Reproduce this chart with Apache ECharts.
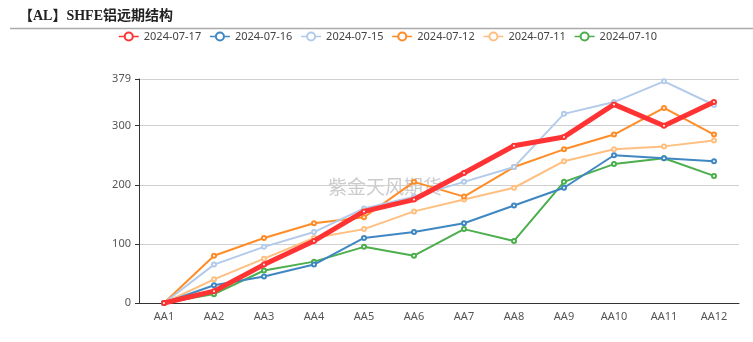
<!DOCTYPE html>
<html>
<head>
<meta charset="utf-8">
<script src="https://cdn.jsdelivr.net/npm/echarts@6/dist/echarts.min.js"></script>
<style>
  html, body { margin: 0; padding: 0; background: #fff; }
  #chart { width: 753px; height: 342px; }
</style>
</head>
<body>
<div id="chart"></div>
<script>
// Contract months along the curve
const contracts = ['AA1', 'AA2', 'AA3', 'AA4', 'AA5', 'AA6', 'AA7', 'AA8', 'AA9', 'AA10', 'AA11', 'AA12'];

// Spread vs. front month for each trading day
const dates = ['2024-07-17', '2024-07-16', '2024-07-15', '2024-07-12', '2024-07-11', '2024-07-10'];
const d0717 = [0, 20, 65, 105, 155, 175, 220, 266, 281, 336, 300, 340];
const d0716 = [0, 30, 45, 65, 110, 120, 135, 165, 195, 250, 245, 240];
const d0715 = [0, 65, 95, 120, 160, 180, 205, 230, 320, 340, 375, 335];
const d0712 = [0, 80, 110, 135, 145, 205, 180, 230, 260, 285, 330, 285];
const d0711 = [0, 40, 75, 110, 125, 155, 175, 195, 240, 260, 265, 275];
const d0710 = [0, 15, 55, 70, 95, 80, 125, 105, 205, 235, 245, 215];

const yMax = 379;

const seriesData = [d0717, d0716, d0715, d0712, d0711, d0710];
const colors = ['#ff3333', '#3f87c2', '#b3cbea', '#ff8c26', '#ffbf80', '#4cae4c'];
const widths = [5, 2, 2, 2, 2, 2];

const chart = echarts.init(document.getElementById('chart'), null, { renderer: 'canvas' });

chart.setOption({
  animation: false,
  color: colors,
  title: {
    text: '【AL】SHFE铝远期结构',
    left: 14,
    top: 4,
    textStyle: {
      fontFamily: '"Liberation Serif", "Noto Sans CJK SC", serif',
      fontSize: 14,
      fontWeight: 'bold',
      color: '#222'
    }
  },
  graphic: [{
    type: 'line',
    shape: { x1: 10, y1: 28.5, x2: 753, y2: 28.5 },
    style: { stroke: '#aaa', lineWidth: 1.5 }
  }, {
    type: 'text',
    left: 328,
    top: 177,
    z: 0,
    style: {
      text: '紫金天风期货',
      fill: 'rgba(160,160,160,0.55)',
      font: '19px "Noto Sans CJK SC", sans-serif'
    }
  }],
  legend: {
    top: 26,
    left: 113,
    itemWidth: 20,
    itemHeight: 10,
    itemGap: 8,
    lineStyle: { width: 1.5 },
    textStyle: { fontSize: 11, color: '#444', fontFamily: '"Noto Sans", sans-serif' },
    data: dates
  },
  grid: { left: 139, right: 14, top: 79, bottom: 39, containLabel: false },
  xAxis: {
    type: 'category',
    data: contracts,
    boundaryGap: true,
    axisLine: { lineStyle: { color: '#333' } },
    axisTick: { alignWithLabel: true, lineStyle: { color: '#333' } },
    axisLabel: { color: '#555', fontSize: 11, fontFamily: '"Noto Sans", sans-serif', margin: 8 }
  },
  yAxis: {
    type: 'value',
    min: 0,
    max: yMax,
    interval: 100,
    axisLine: { show: true, lineStyle: { color: '#333' } },
    axisTick: { show: true, length: 4, lineStyle: { color: '#333' } },
    axisLabel: { color: '#555', fontSize: 11, fontFamily: '"Noto Sans", sans-serif' },
    splitLine: { lineStyle: { color: '#d0d0d0' } }
  },
  series: dates.map((name, i) => ({
    name: name,
    type: 'line',
    data: seriesData[i],
    symbol: 'emptyCircle',
    symbolSize: 4,
    z: 10 - i,
    lineStyle: { width: widths[i], color: colors[i] },
    itemStyle: { color: colors[i] }
  }))
});
</script>
</body>
</html>
